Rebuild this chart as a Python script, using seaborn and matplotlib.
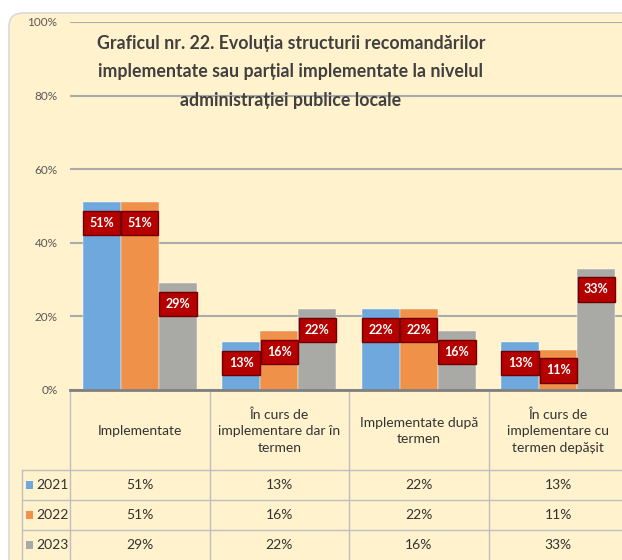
import pandas as pd
import numpy as np
import matplotlib
matplotlib.use("Agg")
from matplotlib import pyplot as plt
from matplotlib.patches import FancyBboxPatch
import seaborn as sns

categories = ["Implementate", "În curs de\nimplementare dar în\ntermen",
              "Implementate după\ntermen", "În curs de\nimplementare cu\ntermen depășit"]
years = ["2021", "2022", "2023"]
v2021 = [51, 13, 22, 13]
v2022 = [51, 16, 22, 11]
v2023 = [29, 22, 16, 33]
colors = ["#6FA8DC", "#F0914A", "#A9A9A6"]

title = ("Graficul nr. 22. Evoluția structurii recomandărilor\n"
         "implementate sau parțial implementate la nivelul\n"
         "administrației publice locale")

rows = []
for yr, vals in zip(years, [v2021, v2022, v2023]):
    for c, v in zip(categories, vals):
        rows.append({"cat": c, "year": yr, "val": v / 100})
df = pd.DataFrame(rows)

sns.set_style("white")
plt.rcParams["font.family"] = ["Lato", "DejaVu Sans"]

W, H = 622, 560
fig = plt.figure(figsize=(W / 100, H / 100), dpi=100)
fig.patch.set_facecolor("white")

# background + table layer (pixel coords)
bg = fig.add_axes([0, 0, 1, 1], zorder=0)
bg.set_xlim(0, W)
bg.set_ylim(H, 0)
bg.axis("off")
bg.add_patch(FancyBboxPatch((9, 13), 640, 580, boxstyle="round,pad=0,rounding_size=14",
                            fc="#FFF2CC", ec="#D9D9D9", lw=1.2))

x0, x1 = 70, 628
y0, y1 = 390, 22
ax = fig.add_axes([x0 / W, (H - y0) / H, (x1 - x0) / W, (y0 - y1) / H], zorder=1)
ax.patch.set_alpha(0)

sns.barplot(data=df, x="cat", y="val", hue="year", palette=colors, width=0.82,
            gap=0, saturation=1, legend=False, ax=ax, edgecolor="#FFFFFF", linewidth=0.3)

ax.set_ylim(0, 1)
ax.set_yticks(np.arange(0, 1.01, 0.2))
ax.set_yticklabels([f"{int(round(t*100))}%" for t in np.arange(0, 1.01, 0.2)],
                   fontsize=8.5, color="#595959")
ax.tick_params(axis="y", length=0, pad=9)
ax.set_xticks([])
ax.set_xlabel("")
ax.set_ylabel("")
ax.grid(axis="y", color="#ABABAB", lw=1.5)
ax.set_axisbelow(True)
for s in ["top", "right", "left"]:
    ax.spines[s].set_visible(False)
ax.spines["bottom"].set_color("#7F7F7F")
ax.spines["bottom"].set_linewidth(2)

for cont in ax.containers:
    for bar in cont:
        h = bar.get_height()
        ax.annotate(f"{round(h*100)}%", (bar.get_x() + bar.get_width() / 2, h),
                    xytext=(0, -15), textcoords="offset points", ha="center", va="center",
                    color="white", fontsize=9, fontweight="bold",
                    bbox=dict(boxstyle="square,pad=0.5", fc="#B50000", ec="#6E0000", lw=1))

fig.text(291 / W, 1 - 72 / H, title, ha="center", va="center", fontsize=12.8,
         fontweight="bold", color="#404040", linespacing=1.85)

# data table
lc = "#BFBFBF"
cw = (x1 - x0) / len(categories)
for i in range(len(categories) + 1):
    bg.plot([x0 + i * cw, x0 + i * cw], [y0, H], color=lc, lw=1)
for yy in [470, 500, 530]:
    bg.plot([22, W], [yy, yy], color=lc, lw=1)
bg.plot([22, 22], [470, H], color=lc, lw=1)
for i, c in enumerate(categories):
    bg.text(x0 + (i + 0.5) * cw, 431, c, ha="center", va="center", fontsize=10,
            color="#333333", linespacing=1.45)
for r, (yr, vals, col) in enumerate(zip(years, [v2021, v2022, v2023], colors)):
    yc = 485 + r * 30
    bg.add_patch(plt.Rectangle((26, yc - 4), 7, 8, fc=col, ec="none"))
    bg.text(36, yc, yr, ha="left", va="center", fontsize=10, color="#333333")
    for i, v in enumerate(vals):
        bg.text(x0 + (i + 0.5) * cw, yc, f"{v}%", ha="center", va="center",
                fontsize=10, color="#333333")

fig.savefig("out.png", dpi=100)
